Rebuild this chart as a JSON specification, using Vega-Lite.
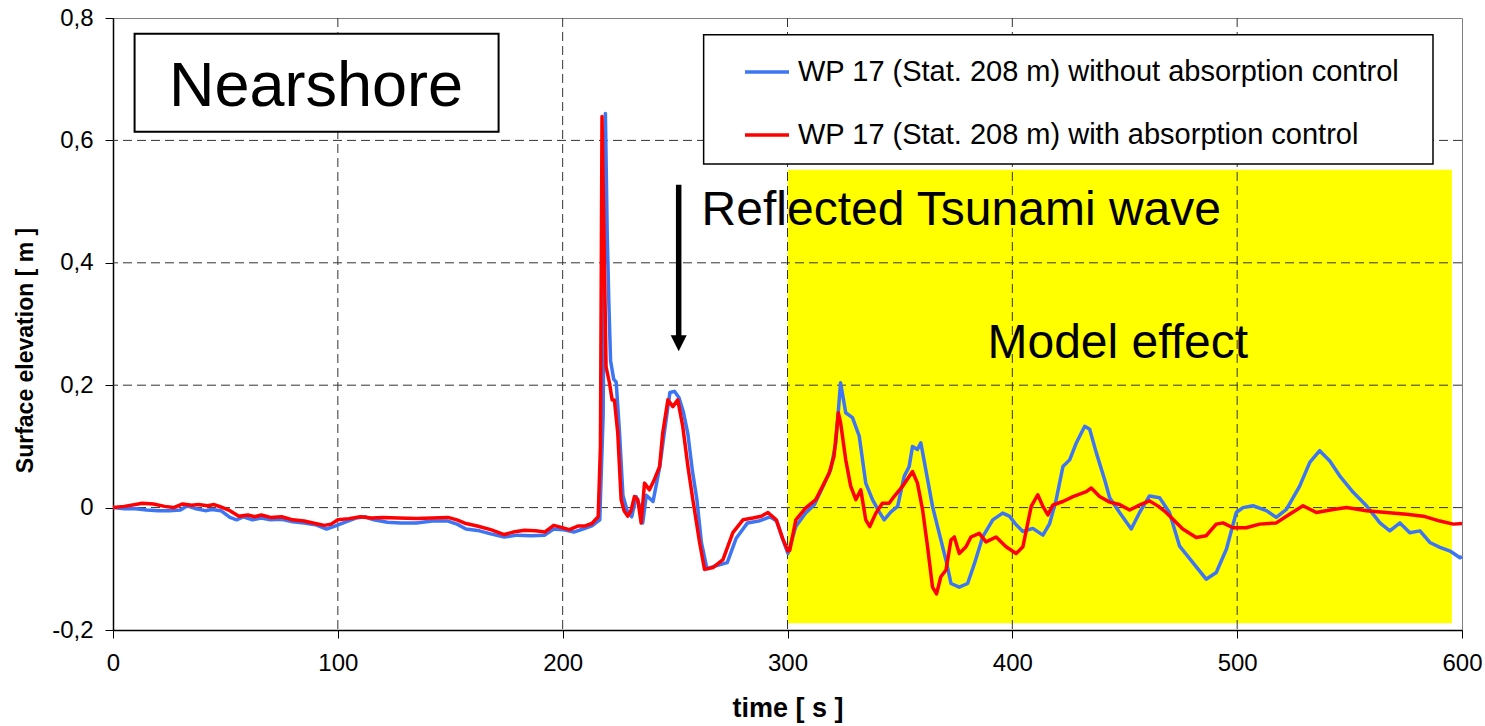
{
  "$schema": "https://vega.github.io/schema/vega-lite/v6.json",
  "autosize": "none",
  "width": 1349,
  "height": 612,
  "padding": {"left": 113, "top": 18, "right": 23, "bottom": 96},
  "background": "white",
  "config": {
    "view": {"stroke": "#808080", "strokeWidth": 1},
    "font": "Liberation Sans",
    "axis": {"labelFont": "Liberation Sans", "titleFont": "Liberation Sans", "labelColor": "black", "titleColor": "black", "domainColor": "black", "tickColor": "black", "grid": false}
  },
  "datasets": {
    "yellow": [{"t": 300, "t2": 595.5, "v": -0.189, "v2": 0.552}],
    "gx": [{"t": 100}, {"t": 200}, {"t": 300}, {"t": 400}, {"t": 500}],
    "gy": [{"v": 0}, {"v": 0.2}, {"v": 0.4}, {"v": 0.6}],
    "blue": [
      {"t": 0, "v": 0.0}, {"t": 5, "v": -0.002}, {"t": 10, "v": -0.002}, {"t": 15, "v": -0.004}, {"t": 20, "v": -0.005},
      {"t": 25, "v": -0.005}, {"t": 30, "v": -0.004}, {"t": 33, "v": 0.003}, {"t": 37, "v": -0.002}, {"t": 41, "v": -0.005},
      {"t": 44, "v": -0.003}, {"t": 48, "v": -0.005}, {"t": 52, "v": -0.016}, {"t": 55, "v": -0.02}, {"t": 58, "v": -0.015},
      {"t": 62, "v": -0.02}, {"t": 66, "v": -0.017}, {"t": 70, "v": -0.02}, {"t": 75, "v": -0.019}, {"t": 80, "v": -0.023},
      {"t": 85, "v": -0.025}, {"t": 90, "v": -0.028}, {"t": 95, "v": -0.035}, {"t": 99, "v": -0.03}, {"t": 103, "v": -0.024},
      {"t": 108, "v": -0.017}, {"t": 112, "v": -0.015}, {"t": 116, "v": -0.02}, {"t": 122, "v": -0.024}, {"t": 128, "v": -0.025},
      {"t": 135, "v": -0.025}, {"t": 142, "v": -0.022}, {"t": 149, "v": -0.022}, {"t": 153, "v": -0.027}, {"t": 157, "v": -0.035},
      {"t": 163, "v": -0.038}, {"t": 168, "v": -0.043}, {"t": 174, "v": -0.048}, {"t": 180, "v": -0.045}, {"t": 186, "v": -0.046},
      {"t": 192, "v": -0.045}, {"t": 196, "v": -0.035}, {"t": 200, "v": -0.036}, {"t": 205, "v": -0.04}, {"t": 209, "v": -0.035},
      {"t": 213, "v": -0.03}, {"t": 216.5, "v": -0.02}, {"t": 218, "v": 0.15}, {"t": 219, "v": 0.644}, {"t": 219.8, "v": 0.45},
      {"t": 220.5, "v": 0.34}, {"t": 221.3, "v": 0.24}, {"t": 222.7, "v": 0.21}, {"t": 223.8, "v": 0.205}, {"t": 225.3, "v": 0.122},
      {"t": 226.8, "v": 0.02}, {"t": 228.7, "v": -0.005}, {"t": 230.7, "v": -0.015}, {"t": 232.7, "v": 0.018}, {"t": 234.6, "v": 0.0},
      {"t": 235.6, "v": -0.025}, {"t": 237.2, "v": 0.02}, {"t": 240.2, "v": 0.01}, {"t": 243.2, "v": 0.067}, {"t": 245.2, "v": 0.122},
      {"t": 247.7, "v": 0.188}, {"t": 249.7, "v": 0.19}, {"t": 251.7, "v": 0.18}, {"t": 253.7, "v": 0.156}, {"t": 255.7, "v": 0.12},
      {"t": 257.7, "v": 0.06}, {"t": 259.7, "v": 0.013}, {"t": 261.7, "v": -0.057}, {"t": 264.2, "v": -0.1}, {"t": 268.2, "v": -0.095},
      {"t": 273.2, "v": -0.09}, {"t": 277.2, "v": -0.05}, {"t": 282.2, "v": -0.025}, {"t": 287.2, "v": -0.022}, {"t": 292.2, "v": -0.015},
      {"t": 295.2, "v": -0.022}, {"t": 297.7, "v": -0.05}, {"t": 300.2, "v": -0.075}, {"t": 303.7, "v": -0.031}, {"t": 308, "v": -0.009},
      {"t": 312, "v": 0.005}, {"t": 315.5, "v": 0.032}, {"t": 319.2, "v": 0.062}, {"t": 321.5, "v": 0.106}, {"t": 323.6, "v": 0.204},
      {"t": 325.9, "v": 0.155}, {"t": 328.9, "v": 0.147}, {"t": 331.9, "v": 0.117}, {"t": 334.8, "v": 0.04}, {"t": 337.8, "v": 0.013},
      {"t": 340.8, "v": -0.007}, {"t": 343, "v": -0.02}, {"t": 346, "v": -0.007}, {"t": 349, "v": 0.002}, {"t": 351.9, "v": 0.051},
      {"t": 354.1, "v": 0.067}, {"t": 355.6, "v": 0.1}, {"t": 357.8, "v": 0.095}, {"t": 359.3, "v": 0.106}, {"t": 361.5, "v": 0.062},
      {"t": 364.5, "v": 0.002}, {"t": 367.5, "v": -0.042}, {"t": 370.5, "v": -0.086}, {"t": 372.7, "v": -0.124}, {"t": 376.4, "v": -0.13},
      {"t": 380.1, "v": -0.124}, {"t": 383.1, "v": -0.092}, {"t": 386.8, "v": -0.048}, {"t": 391.3, "v": -0.02}, {"t": 395.7, "v": -0.009},
      {"t": 398.7, "v": -0.014}, {"t": 401.7, "v": -0.028}, {"t": 404.7, "v": -0.039}, {"t": 409.1, "v": -0.034}, {"t": 413.6, "v": -0.045},
      {"t": 416.6, "v": -0.026}, {"t": 419.5, "v": 0.013}, {"t": 422.5, "v": 0.067}, {"t": 425.5, "v": 0.078}, {"t": 428.5, "v": 0.106},
      {"t": 432.2, "v": 0.133}, {"t": 434.4, "v": 0.128}, {"t": 437.4, "v": 0.089}, {"t": 441.1, "v": 0.045}, {"t": 443.3, "v": 0.016},
      {"t": 447.7, "v": -0.008}, {"t": 452.9, "v": -0.035}, {"t": 456.6, "v": -0.008}, {"t": 461, "v": 0.019}, {"t": 465.5, "v": 0.016},
      {"t": 469.9, "v": -0.008}, {"t": 474.4, "v": -0.063}, {"t": 480.3, "v": -0.09}, {"t": 486.2, "v": -0.117}, {"t": 490.7, "v": -0.106},
      {"t": 495.2, "v": -0.068}, {"t": 499.6, "v": -0.008}, {"t": 502.6, "v": 0.0}, {"t": 507, "v": 0.003}, {"t": 513, "v": -0.005},
      {"t": 517.4, "v": -0.016}, {"t": 521.9, "v": -0.003}, {"t": 527.8, "v": 0.035}, {"t": 532.3, "v": 0.074}, {"t": 536.7, "v": 0.093},
      {"t": 541.2, "v": 0.076}, {"t": 545.6, "v": 0.052}, {"t": 551.6, "v": 0.025}, {"t": 557.5, "v": 0.003}, {"t": 563.5, "v": -0.025},
      {"t": 567.9, "v": -0.038}, {"t": 572.4, "v": -0.025}, {"t": 576.8, "v": -0.041}, {"t": 581.3, "v": -0.038}, {"t": 585.7, "v": -0.057},
      {"t": 590.2, "v": -0.065}, {"t": 594.7, "v": -0.071}, {"t": 599.1, "v": -0.082}, {"t": 600, "v": -0.08}
    ],
    "red": [
      {"t": 0, "v": 0.0}, {"t": 5, "v": 0.002}, {"t": 10, "v": 0.005}, {"t": 13, "v": 0.007}, {"t": 18, "v": 0.006},
      {"t": 23, "v": 0.002}, {"t": 27, "v": 0.0}, {"t": 31, "v": 0.006}, {"t": 35, "v": 0.004}, {"t": 38, "v": 0.005},
      {"t": 42, "v": 0.003}, {"t": 45, "v": 0.005}, {"t": 48, "v": 0.001}, {"t": 52, "v": -0.005}, {"t": 56, "v": -0.014},
      {"t": 60, "v": -0.012}, {"t": 63, "v": -0.015}, {"t": 66, "v": -0.012}, {"t": 70, "v": -0.016}, {"t": 75, "v": -0.015},
      {"t": 80, "v": -0.02}, {"t": 85, "v": -0.022}, {"t": 90, "v": -0.026}, {"t": 94, "v": -0.029}, {"t": 97, "v": -0.027},
      {"t": 100, "v": -0.02}, {"t": 105, "v": -0.018}, {"t": 110, "v": -0.015}, {"t": 115, "v": -0.017}, {"t": 120, "v": -0.016},
      {"t": 127, "v": -0.017}, {"t": 135, "v": -0.018}, {"t": 142, "v": -0.017}, {"t": 149, "v": -0.016}, {"t": 153, "v": -0.02},
      {"t": 157, "v": -0.026}, {"t": 162, "v": -0.03}, {"t": 168, "v": -0.036}, {"t": 174, "v": -0.044}, {"t": 178, "v": -0.04},
      {"t": 183, "v": -0.037}, {"t": 188, "v": -0.038}, {"t": 192, "v": -0.04}, {"t": 196, "v": -0.029}, {"t": 199, "v": -0.032},
      {"t": 203, "v": -0.036}, {"t": 207, "v": -0.03}, {"t": 210, "v": -0.03}, {"t": 213, "v": -0.026}, {"t": 215.8, "v": -0.015},
      {"t": 216.8, "v": 0.1}, {"t": 217.5, "v": 0.639}, {"t": 218.6, "v": 0.394}, {"t": 219.3, "v": 0.23}, {"t": 220.8, "v": 0.204},
      {"t": 222, "v": 0.176}, {"t": 223, "v": 0.176}, {"t": 224.5, "v": 0.122}, {"t": 226, "v": 0.013}, {"t": 227.3, "v": -0.005},
      {"t": 229, "v": -0.014}, {"t": 230.4, "v": -0.005}, {"t": 231.9, "v": 0.018}, {"t": 233.4, "v": 0.013}, {"t": 234.9, "v": -0.025},
      {"t": 236.4, "v": 0.04}, {"t": 238.6, "v": 0.029}, {"t": 240.8, "v": 0.046}, {"t": 243.1, "v": 0.067}, {"t": 244.5, "v": 0.122},
      {"t": 246.8, "v": 0.176}, {"t": 249, "v": 0.165}, {"t": 251.2, "v": 0.176}, {"t": 253.4, "v": 0.133}, {"t": 255.7, "v": 0.067},
      {"t": 257.9, "v": 0.013}, {"t": 260.9, "v": -0.057}, {"t": 263.1, "v": -0.101}, {"t": 266.8, "v": -0.098}, {"t": 271.3, "v": -0.085},
      {"t": 275.7, "v": -0.041}, {"t": 280.2, "v": -0.02}, {"t": 284.6, "v": -0.017}, {"t": 288.3, "v": -0.014}, {"t": 291.3, "v": -0.008},
      {"t": 295, "v": -0.02}, {"t": 298, "v": -0.052}, {"t": 300.2, "v": -0.071}, {"t": 301, "v": -0.07}, {"t": 303.7, "v": -0.02},
      {"t": 308, "v": -0.001}, {"t": 312.6, "v": 0.013}, {"t": 314.8, "v": 0.029}, {"t": 318.5, "v": 0.056}, {"t": 320.7, "v": 0.084},
      {"t": 322.6, "v": 0.155}, {"t": 323.6, "v": 0.139}, {"t": 325.9, "v": 0.078}, {"t": 328.1, "v": 0.035}, {"t": 330.4, "v": 0.013},
      {"t": 332.6, "v": 0.029}, {"t": 334.8, "v": -0.02}, {"t": 336.6, "v": -0.031}, {"t": 339.3, "v": -0.009}, {"t": 342.2, "v": 0.007},
      {"t": 345.2, "v": 0.007}, {"t": 347.4, "v": 0.018}, {"t": 351.2, "v": 0.035}, {"t": 355.6, "v": 0.059}, {"t": 357.8, "v": 0.04},
      {"t": 360.1, "v": -0.004}, {"t": 362.3, "v": -0.064}, {"t": 364.5, "v": -0.13}, {"t": 366.3, "v": -0.141}, {"t": 368.2, "v": -0.113},
      {"t": 370.5, "v": -0.102}, {"t": 372.7, "v": -0.053}, {"t": 374.2, "v": -0.048}, {"t": 376.4, "v": -0.075}, {"t": 379.4, "v": -0.064},
      {"t": 381.6, "v": -0.048}, {"t": 385.3, "v": -0.042}, {"t": 388.3, "v": -0.056}, {"t": 392.8, "v": -0.048}, {"t": 397.2, "v": -0.064},
      {"t": 401.7, "v": -0.075}, {"t": 404.7, "v": -0.064}, {"t": 408.4, "v": 0.002}, {"t": 411.3, "v": 0.021}, {"t": 413.6, "v": 0.002},
      {"t": 415.8, "v": -0.012}, {"t": 418, "v": 0.004}, {"t": 422.5, "v": 0.01}, {"t": 427, "v": 0.018}, {"t": 432.9, "v": 0.026},
      {"t": 435.1, "v": 0.032}, {"t": 438.8, "v": 0.018}, {"t": 443.3, "v": 0.009}, {"t": 447.7, "v": 0.005}, {"t": 452.2, "v": -0.004},
      {"t": 457, "v": 0.005}, {"t": 461, "v": 0.011}, {"t": 465, "v": 0.002}, {"t": 468.4, "v": -0.008}, {"t": 475.8, "v": -0.035},
      {"t": 481.8, "v": -0.049}, {"t": 486.2, "v": -0.046}, {"t": 490.7, "v": -0.027}, {"t": 493.7, "v": -0.025}, {"t": 498.1, "v": -0.033},
      {"t": 504, "v": -0.033}, {"t": 510, "v": -0.027}, {"t": 517.4, "v": -0.025}, {"t": 523.3, "v": -0.011}, {"t": 529.3, "v": 0.003},
      {"t": 535.2, "v": -0.008}, {"t": 542.7, "v": -0.003}, {"t": 548.6, "v": 0.0}, {"t": 557.5, "v": -0.005}, {"t": 566.4, "v": -0.008},
      {"t": 575.3, "v": -0.011}, {"t": 582.8, "v": -0.014}, {"t": 590.2, "v": -0.022}, {"t": 596.1, "v": -0.027}, {"t": 600, "v": -0.026}
    ],
    "nearBox": [{"t": 9.6, "t2": 171.5, "v": 0.6142, "v2": 0.7743}],
    "legBox": [{"t": 262.7, "t2": 587.1, "v": 0.5616, "v2": 0.7727}],
    "bigText": [{"t": 90.3, "v": 0.6567, "label": "Nearshore"}],
    "midText": [
      {"t": 377.3, "v": 0.4623, "label": "Reflected Tsunami wave"},
      {"t": 446.9, "v": 0.245, "label": "Model effect"}
    ],
    "arrowLine": [{"t": 251.6, "v": 0.5276, "v2": 0.28}],
    "arrowHead": [{"t": 251.6, "v": 0.2686}]
  },
  "layer": [
    {
      "data": {"name": "yellow"},
      "mark": {"type": "rect", "fill": "#ffff00", "stroke": null},
      "encoding": {
        "x": {"field": "t", "type": "quantitative", "title": "time [ s ]", "scale": {"domain": [0, 600], "nice": false, "zero": false},
          "axis": {"values": [0, 100, 200, 300, 400, 500, 600], "labelFontSize": 24, "tickSize": 8, "labelPadding": 13, "domainWidth": 1.5, "tickWidth": 1, "titleFontSize": 27, "titleFontWeight": "bold", "titlePadding": 20, "labelFlush": false, "labelOverlap": false}},
        "x2": {"field": "t2"},
        "y": {"field": "v", "type": "quantitative", "title": "Surface elevation [ m ]", "scale": {"domain": [-0.2, 0.8], "nice": false, "zero": false},
          "axis": {"values": [-0.2, 0, 0.2, 0.4, 0.6, 0.8], "labelExpr": "replace(toString(datum.value), '.', ',')", "labelFontSize": 24, "tickSize": 8, "labelPadding": 12, "domainWidth": 1.5, "tickWidth": 1, "titleFontSize": 23, "titleFontWeight": "bold", "titlePadding": 14, "titleY": 332, "labelFlush": false, "labelOverlap": false}},
        "y2": {"field": "v2"}
      }
    },
    {
      "data": {"name": "gx"},
      "mark": {"type": "rule", "color": "#333333", "strokeWidth": 1, "strokeDash": [9, 5]},
      "encoding": {"x": {"field": "t", "type": "quantitative"}}
    },
    {
      "data": {"name": "gy"},
      "mark": {"type": "rule", "color": "#333333", "strokeWidth": 1, "strokeDash": [9, 5]},
      "encoding": {"y": {"field": "v", "type": "quantitative"}}
    },
    {
      "data": {"name": "blue"},
      "mark": {"type": "line", "strokeWidth": 3.5, "strokeJoin": "round"},
      "encoding": {
        "x": {"field": "t", "type": "quantitative"},
        "y": {"field": "v", "type": "quantitative"},
        "color": {"datum": "WP 17 (Stat. 208 m) without absorption control", "type": "nominal",
          "scale": {"domain": ["WP 17 (Stat. 208 m) without absorption control", "WP 17 (Stat. 208 m) with absorption control"], "range": ["#3d75f2", "#ff0000"]},
          "legend": {"orient": "none", "legendX": 630, "legendY": 30, "title": null, "symbolType": "stroke", "symbolSize": 1936, "symbolStrokeWidth": 3.5, "labelFontSize": 29, "labelFont": "Liberation Sans", "labelColor": "black", "labelOffset": 7, "rowPadding": 24, "padding": 0, "labelLimit": 900}}
      }
    },
    {
      "data": {"name": "red"},
      "mark": {"type": "line", "strokeWidth": 3.5, "strokeJoin": "round"},
      "encoding": {
        "x": {"field": "t", "type": "quantitative"},
        "y": {"field": "v", "type": "quantitative"},
        "color": {"datum": "WP 17 (Stat. 208 m) with absorption control", "type": "nominal"}
      }
    },
    {
      "data": {"name": "nearBox"},
      "mark": {"type": "rect", "fill": "white", "stroke": "black", "strokeWidth": 2},
      "encoding": {
        "x": {"field": "t", "type": "quantitative"}, "x2": {"field": "t2"},
        "y": {"field": "v", "type": "quantitative"}, "y2": {"field": "v2"}
      }
    },
    {
      "data": {"name": "legBox"},
      "mark": {"type": "rect", "fill": "white", "stroke": "black", "strokeWidth": 1.5},
      "encoding": {
        "x": {"field": "t", "type": "quantitative"}, "x2": {"field": "t2"},
        "y": {"field": "v", "type": "quantitative"}, "y2": {"field": "v2"}
      }
    },
    {
      "data": {"name": "bigText"},
      "mark": {"type": "text", "fontSize": 63, "font": "Liberation Sans", "align": "center", "baseline": "alphabetic", "color": "black"},
      "encoding": {
        "x": {"field": "t", "type": "quantitative"},
        "y": {"field": "v", "type": "quantitative"},
        "text": {"field": "label"}
      }
    },
    {
      "data": {"name": "midText"},
      "mark": {"type": "text", "fontSize": 48, "font": "Liberation Sans", "align": "center", "baseline": "alphabetic", "color": "black"},
      "encoding": {
        "x": {"field": "t", "type": "quantitative"},
        "y": {"field": "v", "type": "quantitative"},
        "text": {"field": "label"}
      }
    },
    {
      "data": {"name": "arrowLine"},
      "mark": {"type": "rule", "color": "black", "strokeWidth": 5.5},
      "encoding": {
        "x": {"field": "t", "type": "quantitative"},
        "y": {"field": "v", "type": "quantitative"},
        "y2": {"field": "v2"}
      }
    },
    {
      "data": {"name": "arrowHead"},
      "mark": {"type": "point", "shape": "M-1,-1L1,-1L0,1Z", "size": 256, "filled": true, "color": "black", "opacity": 1, "strokeWidth": 0},
      "encoding": {
        "x": {"field": "t", "type": "quantitative"},
        "y": {"field": "v", "type": "quantitative"}
      }
    }
  ]
}
